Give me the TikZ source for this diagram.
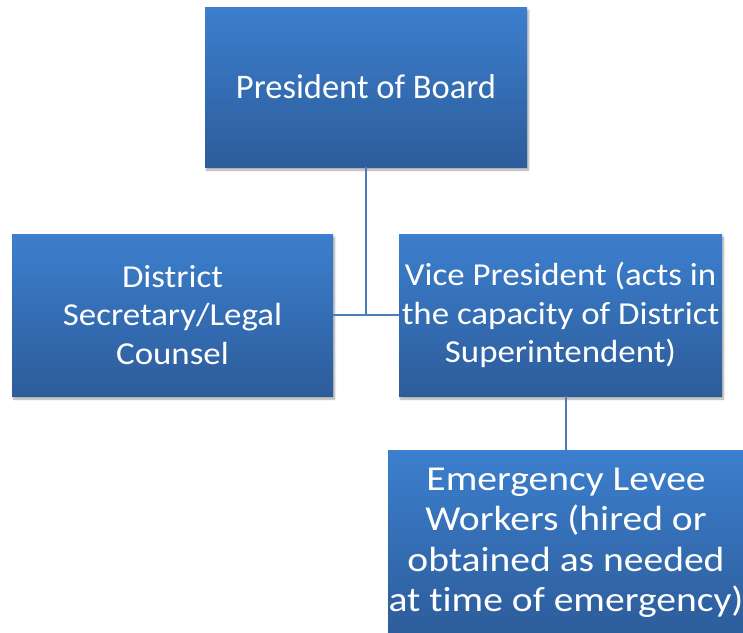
\documentclass[tikz,border=0pt]{standalone}
\usepackage{fontspec}
\setmainfont{Carlito}[Ligatures=NoCommon]
\newfontfamily\midfont{Carlito}[FakeStretch=1.09, Ligatures=NoCommon]
\newfontfamily\bigfont{Carlito}[FakeStretch=1.13, Ligatures=NoCommon]
\usetikzlibrary{positioning, shadows.blur}
\definecolor{boxtop}{RGB}{60,127,206}
\definecolor{boxbot}{RGB}{45,92,154}
\definecolor{linkblue}{RGB}{74,126,187}
\tikzset{
    orgnode/.style = {rectangle, draw=none, top color=boxtop, bottom color=boxbot,
      text=white, inner sep=0pt, align=center,
      blur shadow={shadow xshift=1.5pt, shadow yshift=-3pt, shadow blur steps=6, shadow opacity=35}},
    toptext/.style = {font=\fontsize{34.5}{40}\selectfont},
    midtext/.style = {font=\midfont\fontsize{32}{38.5}\selectfont},
    bigtext/.style = {font=\bigfont\fontsize{35}{40.5}\selectfont},
    connect/.style = {linkblue, line width=1.5pt}
}
\begin{document}
\begin{tikzpicture}[x=1pt, y=-1pt]
    \useasboundingbox (0,0) rectangle (743,632);

    \node [name=pres, orgnode, toptext, minimum width=322pt, minimum height=160pt]
        at (366,87) {President of Board};

    \node [name=sec, orgnode, midtext, minimum width=321pt, minimum height=162pt]
        at (172.5,315) {District\\Secretary/Legal\\Counsel};
    \node [name=vp, orgnode, midtext, minimum width=323pt, minimum height=162pt]
        at (560.5,315) {Vice President (acts in\\the capacity of District\\Superintendent)};

    \node [name=workers, orgnode, bigtext, minimum width=356pt, minimum height=186pt]
        at (566,543) {Emergency Levee\\Workers (hired or\\obtained as needed\\at time of emergency)};

    \draw [connect] (pres.south) -- (pres.south |- sec.east);
    \draw [connect] (sec.east) -- (vp.west);
    \draw [connect] (workers.north) -- (workers.north |- vp.south);
\end{tikzpicture}
\end{document}
